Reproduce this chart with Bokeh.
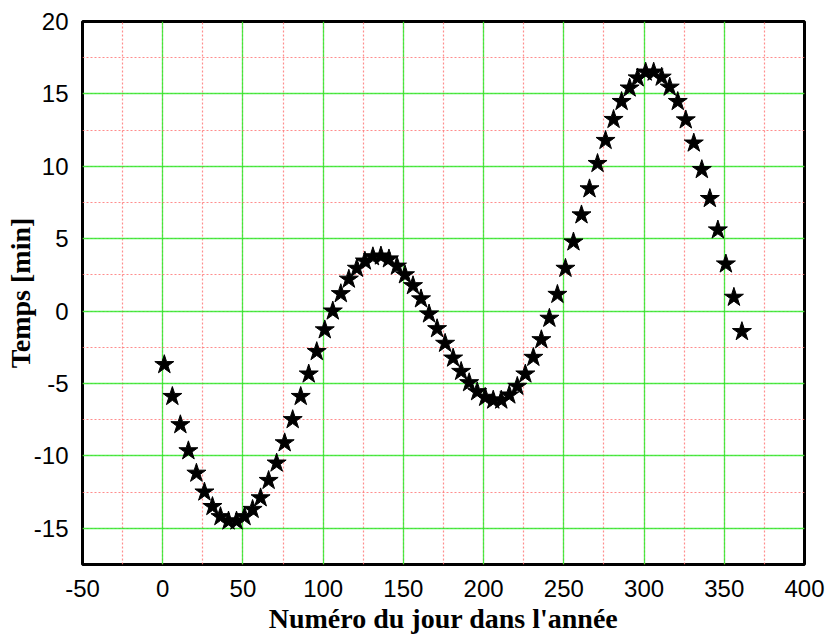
from bokeh.plotting import figure
from bokeh.models import SingleIntervalTicker, Range1d, CustomJSTickFormatter
from bokeh.embed import file_html
from bokeh.resources import INLINE

days = list(range(1, 362, 5))
temps = [-3.7, -5.9, -7.85, -9.65, -11.2, -12.5, -13.5, -14.2, -14.5, -14.5,
         -14.2, -13.7, -12.9, -11.7, -10.5, -9.1, -7.5, -5.9, -4.35, -2.8,
         -1.3, 0.0, 1.2, 2.2, 2.95, 3.45, 3.75, 3.8, 3.6, 3.1,
         2.5, 1.75, 0.84, -0.2, -1.22, -2.23, -3.25, -4.17, -4.95, -5.57,
         -5.96, -6.15, -6.15, -5.8, -5.2, -4.35, -3.2, -1.98, -0.5, 1.15,
         2.95, 4.77, 6.64, 8.44, 10.19, 11.78, 13.23, 14.47, 15.4, 16.1,
         16.5, 16.5, 16.15, 15.46, 14.47, 13.2, 11.6, 9.77, 7.77, 5.6,
         3.25, 0.95, -1.42]

x_label = "Numéro du jour dans l'année"
y_label = "Temps [min]"

p = figure(width=826, height=643, output_backend="svg", toolbar_location=None,
           x_range=Range1d(-50, 400), y_range=Range1d(-17.5, 20))
p.min_border_left = 82
p.min_border_right = 22
p.min_border_top = 21
p.min_border_bottom = 79

p.xaxis.ticker = SingleIntervalTicker(interval=50, num_minor_ticks=2)
p.yaxis.ticker = SingleIntervalTicker(interval=5, num_minor_ticks=2)
p.xgrid.ticker = p.xaxis.ticker
p.ygrid.ticker = p.yaxis.ticker

for g in (p.xgrid, p.ygrid):
    g.grid_line_color = "#22ee22"
    g.grid_line_alpha = 0.8
    g.grid_line_width = 1.3
    g.minor_grid_line_color = "#ff7070"
    g.minor_grid_line_alpha = 0.8
    g.minor_grid_line_dash = "2 2"
    g.minor_grid_line_width = 1.2

fmt = CustomJSTickFormatter(code="return String(tick);")
for ax in (p.xaxis, p.yaxis):
    ax.formatter = fmt
    ax.axis_line_color = None
    ax.major_tick_line_color = None
    ax.minor_tick_line_color = None
    ax.major_tick_out = 0
    ax.minor_tick_out = 0
    ax.major_tick_in = 0
    ax.minor_tick_in = 0
    ax.major_label_text_font = "Liberation Sans"
    ax.major_label_text_font_size = "24px"
    ax.major_label_text_color = "black"
    ax.axis_label_text_font = "Liberation Serif"
    ax.axis_label_text_font_style = "bold"
    ax.axis_label_text_font_size = "28px"
    ax.axis_label_text_color = "black"

p.xaxis.axis_label = x_label
p.yaxis.axis_label = y_label
p.xaxis.major_label_standoff = 15
p.yaxis.major_label_standoff = 14
p.xaxis.axis_label_standoff = 3
p.yaxis.axis_label_standoff = -5

p.outline_line_color = "black"
p.outline_line_width = 3

p.scatter(days, temps, marker="star", size=20, fill_color="black", line_color="black")

open("out.html", "w").write(file_html(p, INLINE))
